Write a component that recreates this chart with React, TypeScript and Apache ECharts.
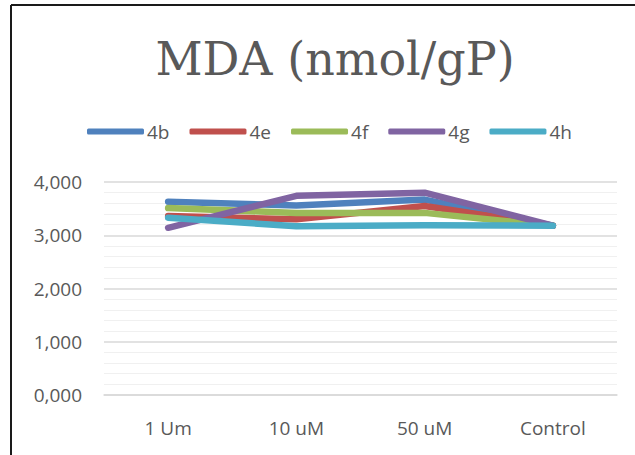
import React, { useEffect, useRef } from "react";
import * as echarts from "echarts";

const categories = ["1 Um", "10 uM", "50 uM", "Control"];
const seriesNames = ["4b", "4e", "4f", "4g", "4h"];
const s4b = [3.63, 3.56, 3.67, 3.18];
const s4e = [3.36, 3.3, 3.55, 3.18];
const s4f = [3.51, 3.42, 3.42, 3.18];
const s4g = [3.14, 3.74, 3.8, 3.18];
const s4h = [3.33, 3.17, 3.19, 3.18];
const colors = ["#4F81BD", "#C0504D", "#9BBB59", "#8064A2", "#4BACC6"];
const titleText = "MDA (nmol/gP)";

export default function App() {
  const ref = useRef<HTMLDivElement>(null);
  useEffect(() => {
    document.body.style.margin = "0";
    const chart = echarts.init(ref.current!, undefined, { renderer: "svg" });
    const values = [s4b, s4e, s4f, s4g, s4h];
    const labelFont = "'Open Sans', sans-serif";
    chart.setOption({
      animation: false,
      backgroundColor: "#ffffff",
      color: colors,
      title: {
        text: titleText,
        left: 330,
        top: 31,
        textAlign: "center",
        textStyle: {
          fontFamily: "'DejaVu Serif', serif",
          fontSize: 46,
          fontWeight: "normal",
          color: "#595959",
        },
      },
      legend: {
        left: 87,
        top: 122,
        padding: 0,
        itemWidth: 57,
        itemHeight: 6,
        itemGap: 20,
        icon: "roundRect",
        textStyle: { fontFamily: labelFont, fontSize: 19, color: "#595959", padding: [0, 0, 0, -2] },
        data: seriesNames,
      },
      grid: { left: 104, right: 18, top: 182, bottom: 60 },
      xAxis: {
        type: "category",
        data: categories,
        boundaryGap: true,
        axisLine: { show: true, lineStyle: { color: "#d9d9d9", width: 1.5 } },
        axisTick: { show: false },
        axisLabel: { fontFamily: labelFont, fontSize: 19, color: "#595959", margin: 23 },
      },
      yAxis: {
        type: "value",
        min: 0,
        max: 4,
        interval: 1,
        axisLine: { show: false },
        axisTick: { show: false },
        axisLabel: {
          fontFamily: labelFont,
          fontSize: 19,
          color: "#595959",
          margin: 22,
          formatter: (v: number) => v.toFixed(3).replace(".", ","),
        },
        splitLine: { show: true, lineStyle: { color: "#d9d9d9", width: 1.5 } },
        minorTick: { show: false, splitNumber: 5 },
        minorSplitLine: { show: true, lineStyle: { color: "#f0f0f0", width: 1 } },
      },
      series: seriesNames.map((name, i) => ({
        name,
        type: "line",
        data: values[i],
        showSymbol: false,
        symbol: "none",
        lineStyle: { width: 6.5, color: colors[i], cap: "round", join: "round" },
        itemStyle: { color: colors[i] },
      })),
      graphic: [
        {
          type: "line",
          shape: { x1: 11, y1: 5, x2: 635, y2: 5 },
          style: { stroke: "#1a1a1a", lineWidth: 2 },
        },
        {
          type: "line",
          shape: { x1: 11, y1: 5, x2: 11, y2: 455 },
          style: { stroke: "#1a1a1a", lineWidth: 2 },
        },
      ],
    });
    return () => chart.dispose();
  }, []);
  return <div ref={ref} style={{ width: 635, height: 455 }} />;
}
